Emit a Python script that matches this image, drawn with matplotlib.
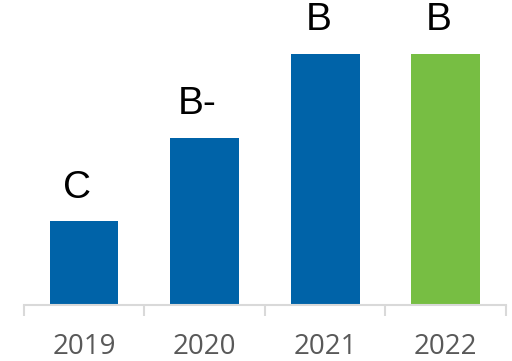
import matplotlib
matplotlib.use("Agg")
import matplotlib.pyplot as plt
import numpy as np

years = ["2019", "2020", "2021", "2022"]
scores = [1, 2, 3, 3]
grades = ["C", "B-", "B", "B"]
colors = ["#0063A8", "#0063A8", "#0063A8", "#77BE43"]

fig = plt.figure(figsize=(5.12, 3.61), dpi=100)
ax = fig.add_axes([23.7/512, 56/361, (506-23.7)/512, 305/361])

x = np.arange(len(years))
ax.bar(x, scores, width=0.57, color=colors, zorder=2)
ax.set_xlim(-0.5, len(years) - 0.5)
ax.set_ylim(0, 305/83.7)

for xi, v, g in zip(x, scores, grades):
    ax.annotate(g, (xi, v), xytext=(-5, 17), textcoords="offset points",
                ha="center", va="baseline", fontsize=28,
                family="Liberation Sans", color="black", annotation_clip=False)

for s in ["top", "right", "left"]:
    ax.spines[s].set_visible(False)
ax.spines["bottom"].set_color("#D9D9D9")
ax.spines["bottom"].set_linewidth(1.5)
ax.set_yticks([])

ax.set_xticks(np.arange(len(years) + 1) - 0.5)
ax.set_xticklabels([])
ax.tick_params(axis="x", which="major", length=8, width=1.5, color="#D9D9D9")
ax.set_xticks(x, minor=True)
ax.set_xticklabels(years, minor=True, fontsize=20, family="Open Sans", color="#595959")
ax.tick_params(axis="x", which="minor", length=0, pad=20)

fig.savefig("out.png", dpi=100)
